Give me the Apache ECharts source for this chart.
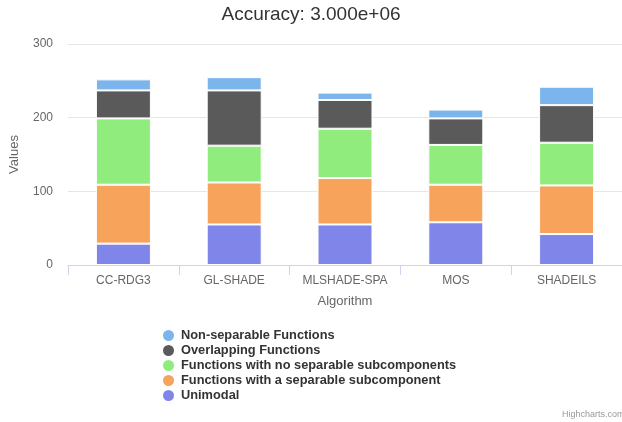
<!DOCTYPE html>
<html><head><meta charset="utf-8">
<script src="https://cdn.jsdelivr.net/npm/echarts@6/dist/echarts.min.js"></script>
<style>html,body{margin:0;padding:0;background:#fff}#c{width:622px;height:422px}</style>
</head><body><div id="c"></div>
<script>
const categories = ['CC-RDG3', 'GL-SHADE', 'MLSHADE-SPA', 'MOS', 'SHADEILS'];
const unimodal = [29, 55, 55, 58, 42];
const separableSub = [80, 57, 63, 51, 66];
const noSeparableSub = [90, 50, 67, 54, 58];
const overlapping = [38, 75, 39, 36, 51];
const nonSeparable = [15, 18, 10, 12, 25];
const yTicks = [0, 100, 200, 300];

const FONT = '"Liberation Sans", Arial, Helvetica, sans-serif';
const seriesDefs = [
  ['Unimodal', unimodal, '#8085e9'],
  ['Functions with a separable subcomponent', separableSub, '#f7a35c'],
  ['Functions with no separable subcomponents', noSeparableSub, '#90ed7d'],
  ['Overlapping Functions', overlapping, '#5a5a5a'],
  ['Non-separable Functions', nonSeparable, '#7cb5ec']
];
const chart = echarts.init(document.getElementById('c'), null, {renderer: 'canvas'});
chart.setOption({
  animation: false,
  textStyle: {fontFamily: FONT},
  title: {
    text: 'Accuracy: 3.000e+06', left: 'center', top: 5, padding: 0,
    textStyle: {fontFamily: FONT, fontSize: 19, fontWeight: 'normal', color: '#333'}
  },
  grid: {left: 67, right: 0, top: 44, bottom: 157},
  legend: {
    orient: 'vertical', left: 161, top: 328, itemGap: 0, padding: 0,
    itemWidth: 13, itemHeight: 13, icon: 'circle',
    data: seriesDefs.map(s => s[0]).reverse(),
    textStyle: {fontFamily: FONT, fontSize: 12.8, lineHeight: 13.5, fontWeight: 'bold', color: '#333', padding: [0, 0, 0, 1]}
  },
  xAxis: {
    type: 'category', data: categories,
    name: 'Algorithm', nameLocation: 'middle', nameGap: 30,
    nameTextStyle: {color: '#666', fontSize: 13, fontFamily: FONT},
    axisLine: {lineStyle: {color: '#ccd6eb'}},
    axisTick: {show: true, length: 10, lineStyle: {color: '#ccd6eb'}},
    axisLabel: {color: '#666', fontSize: 12, margin: 10, fontFamily: FONT}
  },
  yAxis: {
    type: 'value', min: yTicks[0], max: yTicks[yTicks.length - 1], interval: 100,
    name: 'Values', nameLocation: 'middle', nameGap: 47, nameRotate: 90,
    nameTextStyle: {color: '#666', fontSize: 13, fontFamily: FONT},
    axisLabel: {color: '#666', fontSize: 12, margin: 15, fontFamily: FONT},
    splitLine: {lineStyle: {color: '#e6e6e6'}},
    axisLine: {show: false}, axisTick: {show: false}
  },
  series: seriesDefs.map(([name, data, color]) => ({
    name, type: 'bar', stack: 'total', data, barWidth: 55,
    itemStyle: {color, borderColor: '#fff', borderWidth: 1}
  })),
  graphic: [{
    type: 'text', left: 562, top: 410,
    style: {text: 'Highcharts.com', fill: '#999', fontSize: 9, fontFamily: FONT}
  }]
});
</script></body></html>
